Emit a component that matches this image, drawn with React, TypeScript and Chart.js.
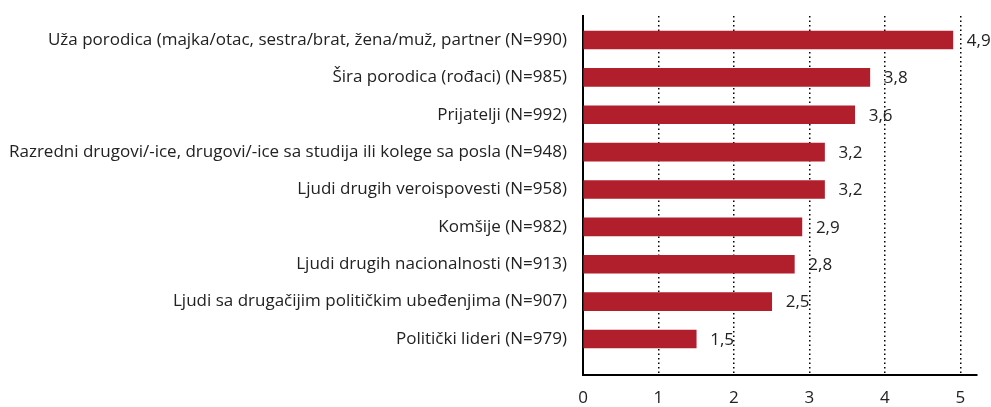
import React, { useEffect, useRef } from "react";
import { Chart, registerables } from "chart.js";

Chart.register(...registerables);

const categories = [
  "Uža porodica (majka/otac, sestra/brat, žena/muž, partner (N=990)",
  "Šira porodica (rođaci) (N=985)",
  "Prijatelji (N=992)",
  "Razredni drugovi/-ice, drugovi/-ice sa studija ili kolege sa posla (N=948)",
  "Ljudi drugih veroispovesti (N=958)",
  "Komšije (N=982)",
  "Ljudi drugih nacionalnosti (N=913)",
  "Ljudi sa drugačijim političkim ubeđenjima (N=907)",
  "Politički lideri (N=979)",
];
const values = [4.9, 3.8, 3.6, 3.2, 3.2, 2.9, 2.8, 2.5, 1.5];
const xTicks = [0, 1, 2, 3, 4, 5];

const FONT = "'Open Sans', 'Noto Sans', sans-serif";
const FS = 17;

export default function App() {
  const ref = useRef<HTMLCanvasElement | null>(null);
  useEffect(() => {
    if (!ref.current) return;
    const labelPlugin = {
      id: "valueLabels",
      afterDatasetsDraw(chart: any) {
        const ctx = chart.ctx;
        const meta = chart.getDatasetMeta(0);
        ctx.save();
        ctx.font = `${FS}px ${FONT}`;
        ctx.fillStyle = "#222";
        ctx.textAlign = "left";
        ctx.textBaseline = "middle";
        meta.data.forEach((el: any, i: number) => {
          ctx.fillText(values[i].toFixed(1).replace(".", ","), el.x + 14, el.y + 1);
        });
        ctx.restore();
      },
    };
    const chart = new Chart(ref.current, {
      type: "bar",
      data: {
        datasets: [
          {
            data: values.map((v, i) => ({ x: v, y: i })),
            backgroundColor: "#B01F2B",
            borderWidth: 0,
            barThickness: 18,
          },
        ],
      },
      options: {
        indexAxis: "y",
        animation: false,
        responsive: false,
        maintainAspectRatio: false,
        layout: { padding: { top: 16, right: 14, left: 0, bottom: 0 } },
        plugins: { legend: { display: false }, tooltip: { enabled: false } },
        scales: {
          x: {
            type: "linear",
            min: 0,
            max: 5.22,
            afterBuildTicks(scale: any) {
              scale.ticks = xTicks.map((v) => ({ value: v }));
            },
            afterFit(scale: any) {
              scale.height = 32;
              scale.paddingLeft = 0;
              scale.paddingRight = 0;
            },
            border: { display: true, color: "#000", width: 2, dash: [1.5, 3] },
            grid: {
              display: true,
              drawTicks: false,
              color: (c: any) => (c.tick && c.tick.value === 0 ? "rgba(0,0,0,0)" : "#000"),
              lineWidth: 1.5,
            },
            ticks: {
              padding: 13,
              color: "#222",
              font: { family: FONT, size: FS },
              callback: (v: any) => String(v),
            },
          },
          y: {
            type: "linear",
            reverse: true,
            offset: false,
            min: -0.642,
            max: 8.963,
            afterBuildTicks(scale: any) {
              scale.ticks = categories.map((_, i) => ({ value: i }));
            },
            afterFit(scale: any) {
              scale.width = 583;
              scale.paddingTop = 0;
              scale.paddingBottom = 0;
            },
            border: { display: true, color: "#000", width: 2 },
            grid: { display: false, drawTicks: false, offset: false },
            ticks: {
              padding: 16,
              color: "#222",
              font: { family: FONT, size: FS },
              autoSkip: false,
              callback: (v: any) => categories[v as number] ?? "",
            },
          },
        },
      },
      plugins: [labelPlugin],
    } as any);
    return () => chart.destroy();
  }, []);
  return (
    <div style={{ position: "fixed", left: 0, top: 0, width: 991, height: 407, background: "#fff" }}>
      <canvas ref={ref} width={991} height={407} style={{ width: 991, height: 407 }} />
    </div>
  );
}
